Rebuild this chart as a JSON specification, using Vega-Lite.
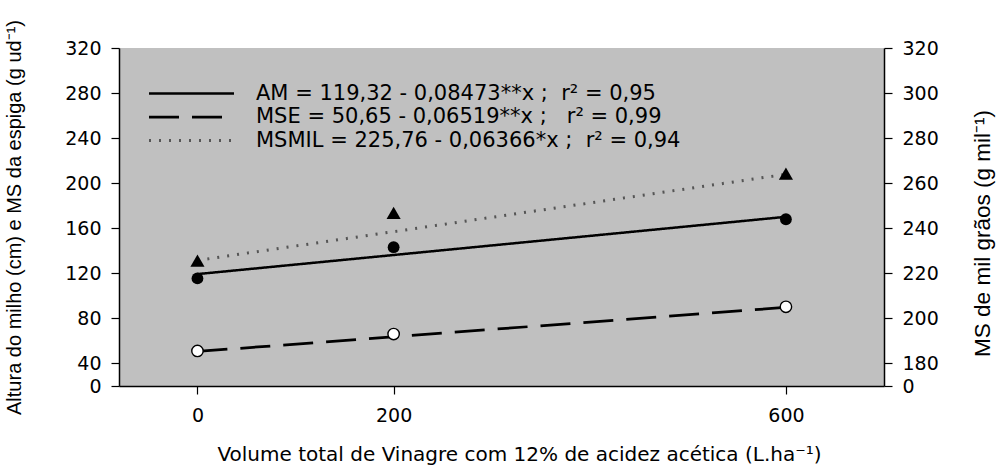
{
  "$schema": "https://vega.github.io/schema/vega-lite/v6.json",
  "width": 765,
  "height": 338,
  "autosize": {"type": "none"},
  "padding": {"left": 119, "top": 48, "right": 116, "bottom": 82},
  "background": "white",
  "config": {
    "view": {"fill": "#c0c0c0", "stroke": null},
    "font": "DejaVu Sans",
    "axis": {
      "domainColor": "black", "tickColor": "black", "labelColor": "black", "titleColor": "black",
      "grid": false, "labelFont": "DejaVu Sans", "titleFont": "Liberation Sans",
      "titleFontWeight": "normal", "labelFontSize": 19, "titleFontSize": 20,
      "domainWidth": 1.5, "tickWidth": 1.2, "tickSize": 8, "labelPadding": 10
    },
    "legend": {
      "orient": "none", "legendX": 62, "legendY": 35,
      "symbolSize": 289, "rowPadding": 1.5,
      "labelFont": "DejaVu Sans", "labelFontSize": 21, "labelColor": "black",
      "labelOffset": 54, "labelLimit": 800, "title": null
    }
  },
  "datasets": {
    "obs": [
      {"serie": "AM", "x": 0, "y": 115.5},
      {"serie": "AM", "x": 200, "y": 143.2},
      {"serie": "AM", "x": 600, "y": 168},
      {"serie": "MSE", "x": 0, "y": 51.1},
      {"serie": "MSE", "x": 200, "y": 66.1},
      {"serie": "MSE", "x": 600, "y": 90.3},
      {"serie": "MSMIL", "x": 0, "y": 225.6},
      {"serie": "MSMIL", "x": 200, "y": 246.8},
      {"serie": "MSMIL", "x": 600, "y": 264.3}
    ],
    "fit": [
      {"serie": "AM", "x": 0, "y": 119.32},
      {"serie": "AM", "x": 600, "y": 170.16},
      {"serie": "MSE", "x": 0, "y": 50.65},
      {"serie": "MSE", "x": 600, "y": 89.76},
      {"serie": "MSMIL", "x": 0, "y": 225.76},
      {"serie": "MSMIL", "x": 600, "y": 263.96}
    ]
  },
  "layer": [
    {
      "encoding": {
        "x": {
          "field": "x", "type": "quantitative",
          "scale": {"domain": [-80, 700], "nice": false, "zero": false},
          "axis": {"values": [0, 200, 600], "title": "Volume total de Vinagre com 12% de acidez acética (L.ha⁻¹)", "titleFont": "DejaVu Sans", "titleFontSize": 20, "titleX": 400, "titleAlign": "center", "titlePadding": 19, "labelPadding": 12}
        },
        "y": {
          "field": "y", "type": "quantitative",
          "scale": {"domain": [20, 320], "nice": false, "zero": false},
          "axis": {
            "orient": "left",
            "values": [20, 40, 80, 120, 160, 200, 240, 280, 320],
            "labelExpr": "datum.value == 20 ? '0' : datum.label",
            "title": "Altura do milho (cm) e MS da espiga (g ud⁻¹)",
            "titlePadding": 40
          }
        }
      },
      "layer": [
        {
          "data": {"name": "fit"},
          "transform": [{"filter": "datum.serie != 'MSMIL'"}],
          "mark": {"type": "line"},
          "encoding": {
            "detail": {"field": "serie"},
            "strokeDash": {"field": "serie", "type": "nominal",
              "scale": {"domain": ["AM", "MSE", "MSMIL"], "range": [[1, 0], [30, 13], [2, 8]]},
              "legend": {
                "symbolType": "M-5,0H5",
                "labelExpr": "datum.value == 'AM' ? 'AM = 119,32 - 0,08473**x ;\u00a0 r² = 0,95' : datum.value == 'MSE' ? 'MSE = 50,65 - 0,06519**x ;\u00a0\u00a0 r² = 0,99' : 'MSMIL = 225,76 - 0,06366*x ;\u00a0 r² = 0,94'"}},
            "color": {"field": "serie", "type": "nominal",
              "scale": {"domain": ["AM", "MSE", "MSMIL"], "range": ["black", "black", "#555555"]}},
            "strokeWidth": {"field": "serie", "type": "nominal",
              "scale": {"domain": ["AM", "MSE", "MSMIL"], "range": [2.5, 3, 1.3]}}
          }
        },
        {
          "data": {"name": "obs"},
          "transform": [{"filter": "datum.serie == 'AM'"}],
          "mark": {"type": "point", "shape": "circle", "filled": true, "color": "black", "opacity": 1, "size": 140}
        },
        {
          "data": {"name": "obs"},
          "transform": [{"filter": "datum.serie == 'MSE'"}],
          "mark": {"type": "point", "shape": "circle", "filled": true, "fill": "white", "stroke": "black", "strokeWidth": 1.4, "opacity": 1, "size": 130}
        }
      ]
    },
    {
      "encoding": {
        "x": {"field": "x", "type": "quantitative"},
        "y": {
          "field": "y", "type": "quantitative",
          "scale": {"domain": [170, 320], "nice": false, "zero": false},
          "axis": {
            "orient": "right",
            "values": [170, 180, 200, 220, 240, 260, 280, 300, 320],
            "labelExpr": "datum.value == 170 ? '0' : datum.label",
            "title": "MS de mil grãos (g mil⁻¹)",
            "titleAngle": 270,
            "titleFontSize": 22.5,
            "titleY": 185,
            "titleAlign": "center",
            "titlePadding": 56
          }
        }
      },
      "layer": [
        {
          "data": {"name": "fit"},
          "transform": [{"filter": "datum.serie == 'MSMIL'"}],
          "mark": {"type": "line"},
          "encoding": {
            "detail": {"field": "serie"},
            "strokeDash": {"field": "serie", "type": "nominal"},
            "color": {"field": "serie", "type": "nominal"},
            "strokeWidth": {"field": "serie", "type": "nominal"}
          }
        },
        {
          "data": {"name": "obs"},
          "transform": [{"filter": "datum.serie == 'MSMIL'"}],
          "mark": {"type": "point", "shape": "triangle-up", "filled": true, "color": "black", "opacity": 1, "size": 200}
        }
      ]
    }
  ],
  "resolve": {"scale": {"y": "independent"}}
}
